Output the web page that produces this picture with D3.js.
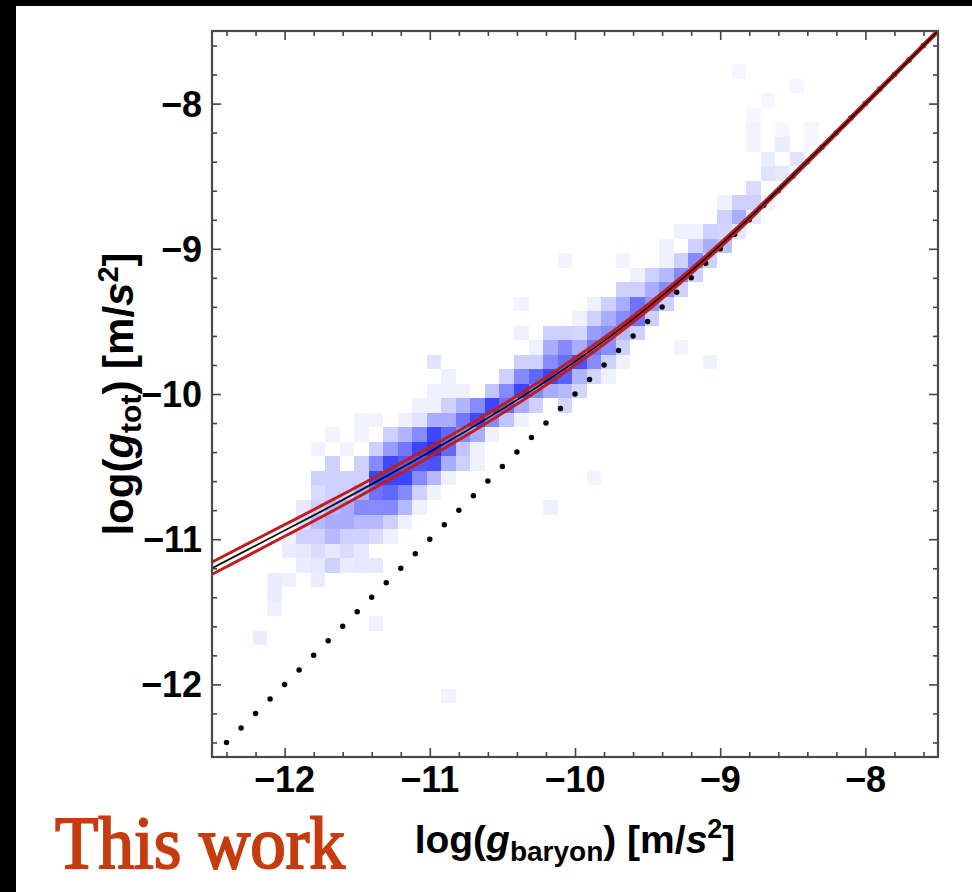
<!DOCTYPE html>
<html>
<head>
<meta charset="utf-8">
<script src="https://cdn.jsdelivr.net/npm/d3@7/dist/d3.min.js"></script>
<style>
  html, body { margin: 0; padding: 0; background: #000; }
  svg { display: block; }
</style>
</head>
<body>
<script>
// axis ticks
var majorTicks = [-12, -11, -10, -9, -8],
  tickLabels = ['\u221212', '\u221211', '\u221210', '\u22129', '\u22128'];

// fitted relation (log g_baryon -> log g_tot)
var curveX = [-12.5, -12.25, -12, -11.75, -11.5, -11.25, -11, -10.75, -10.5, -10.25, -10,
  -9.75, -9.5, -9.25, -9, -8.75, -8.5, -8.25, -8, -7.75, -7.5];
var curveY = [-11.2, -11.07, -10.94, -10.81, -10.676, -10.539, -10.399, -10.255, -10.104, -9.945, -9.777,
  -9.598, -9.405, -9.197, -8.975, -8.741, -8.497, -8.25, -8.0, -7.75, -7.5];
var bandHalf = [0.042, 0.041, 0.04, 0.039, 0.037, 0.035, 0.033, 0.031, 0.029, 0.027, 0.025,
  0.022, 0.02, 0.017, 0.015, 0.013, 0.011, 0.01, 0.009, 0.008, 0.008];

// 1:1 line
var identityLine = [[-12.4, -12.4], [-7.5, -7.5]];

// 2d histogram, 0.1 dex bins: [x centre, y centre of top cell, densities going down]
var binSize = 0.1;
var heatColumns = [
  [-12.17, -11.68, [0.08]],
  [-12.07, -11.28, [0.08, 0.08, 0.06]],
  [-11.97, -10.98, [0.06, 0.08, 0, 0.06]],
  [-11.87, -10.78, [0.1, 0.15, 0.2, 0.1, 0.08]],
  [-11.77, -10.38, [0.05, 0, 0.2, 0.15, 0.2, 0.3, 0.2, 0.15, 0.1, 0.08]],
  [-11.67, -10.28, [0.05, 0, 0.2, 0.2, 0.2, 0.3, 0.35, 0.3, 0.1, 0.2]],
  [-11.57, -10.38, [0.05, 0, 0.2, 0.2, 0.35, 0.35, 0.2, 0.15, 0.08]],
  [-11.47, -10.18, [0.05, 0.05, 0, 0.2, 0.2, 0.35, 0.5, 0.3, 0.2, 0.1, 0.1]],
  [-11.37, -10.18, [0.05, 0, 0.2, 0.5, 0.8, 0.6, 0.5, 0.3, 0.15, 0, 0.1, 0, 0, 0, 0.06]],
  [-11.27, -10.28, [0.2, 0.42, 0.78, 0.8, 0.65, 0.5, 0.2, 0.06]],
  [-11.17, -10.18, [0.06, 0.32, 0.58, 0.7, 0.8, 0.5, 0.3, 0.06]],
  [-11.07, -10.08, [0.06, 0.12, 0.5, 0.8, 0.72, 0.5, 0.2, 0.06]],
  [-10.97, -9.78, [0.12, 0, 0.06, 0.06, 0.35, 0.8, 0.88, 0.75, 0.3, 0.06]],
  [-10.87, -9.88, [0.06, 0.06, 0.2, 0.35, 0.65, 0.65, 0.35, 0.06]],
  [-10.87, -12.08, [0.05]],
  [-10.77, -9.98, [0.06, 0.32, 0.58, 0.5, 0.25, 0.2]],
  [-10.67, -10.08, [0.5, 0.78, 0.35, 0.06, 0.06]],
  [-10.57, -9.98, [0.25, 0.8, 0.5, 0.06]],
  [-10.47, -9.88, [0.2, 0.5, 0.62, 0.25]],
  [-10.37, -9.38, [0.05, 0, 0.06, 0, 0.2, 0.5, 0.8, 0.35, 0.06]],
  [-10.27, -9.68, [0.06, 0.2, 0.65, 0.5, 0.2]],
  [-10.17, -9.58, [0.2, 0.35, 0.5, 0.8, 0.35]],
  [-10.17, -10.78, [0.06]],
  [-10.07, -9.08, [0.05, 0, 0, 0, 0, 0.2, 0.5, 0.62, 0.68, 0.3, 0.18]],
  [-9.97, -9.48, [0.06, 0.18, 0.35, 0.75, 0.32, 0.18]],
  [-9.87, -9.38, [0.06, 0.2, 0.42, 0.58, 0.5, 0.18]],
  [-9.87, -10.58, [0.05]],
  [-9.77, -9.38, [0.2, 0.35, 0.48, 0.48, 0.2, 0.06]],
  [-9.67, -9.08, [0.05, 0, 0.2, 0.35, 0.5, 0.3, 0.2, 0.06]],
  [-9.57, -9.18, [0.06, 0.2, 0.6, 0.6, 0.2]],
  [-9.47, -9.18, [0.2, 0.35, 0.45, 0.2]],
  [-9.37, -8.98, [0.06, 0.06, 0.3, 0.5, 0.2]],
  [-9.27, -8.88, [0.06, 0, 0.2, 0.5, 0.2, 0, 0, 0, 0.05]],
  [-9.17, -8.88, [0.06, 0.2, 0.5, 0.2]],
  [-9.07, -8.88, [0.2, 0.35, 0.2]],
  [-9.07, -9.78, [0.06]],
  [-8.97, -8.68, [0.06, 0.2, 0.18, 0.28]],
  [-8.87, -7.78, [0.04]],
  [-8.87, -8.68, [0.2, 0.35, 0.1]],
  [-8.77, -8.08, [0.04, 0.05, 0.05, 0, 0, 0.15, 0.2, 0.1]],
  [-8.67, -7.98, [0.04, 0, 0, 0, 0.08, 0.12, 0, 0.06]],
  [-8.57, -8.18, [0.04, 0.08, 0, 0.1]],
  [-8.47, -7.88, [0.04, 0, 0, 0, 0, 0.12]],
  [-8.37, -8.18, [0.04, 0.04]]
];

var W = 972, H = 892,
  plot = {left: 212, right: 938, top: 31, bottom: 757},
  svg = d3.select('body').append('svg').attr('width', W).attr('height', H),
  x = d3.scaleLinear().domain([-12.5, -7.5]).range([plot.left, plot.right]),
  y = d3.scaleLinear().domain([-12.5, -7.5]).range([plot.bottom, plot.top]),
  heatColor = d3.scaleLinear().domain([0, 1]).range(['#ffffff', '#0b16ff']),
  sansFont = '"Liberation Sans", Arial, Helvetica, sans-serif';

// black frame of the screenshot, white page
svg.append('rect').attr('width', W).attr('height', H).attr('fill', '#000');
svg.append('rect').attr('x', 16).attr('y', 6).attr('width', W - 16).attr('height', H - 6).attr('fill', '#fff');

svg.append('clipPath').attr('id', 'plot-clip').append('rect')
  .attr('x', plot.left).attr('y', plot.top)
  .attr('width', plot.right - plot.left).attr('height', plot.bottom - plot.top);

var plotG = svg.append('g').attr('clip-path', 'url(#plot-clip)');

// histogram cells
var cells = [];
heatColumns.forEach(function(col) {
  col[2].forEach(function(v, k) {
    if (v > 0) cells.push({x: col[0], y: col[1] - k * binSize, v: v});
  });
});

plotG.append('g').selectAll('rect').data(cells).enter().append('rect')
  .attr('x', function(d) { return x(d.x - binSize / 2); })
  .attr('y', function(d) { return y(d.y + binSize / 2); })
  .attr('width', function(d) { return x(d.x + binSize / 2) - x(d.x - binSize / 2); })
  .attr('height', function(d) { return y(d.y - binSize / 2) - y(d.y + binSize / 2); })
  .attr('fill', function(d) { return heatColor(d.v); })
  .attr('shape-rendering', 'crispEdges');

// dotted 1:1 line
plotG.append('path')
  .datum(identityLine)
  .attr('d', d3.line().x(function(d) { return x(d[0]); }).y(function(d) { return y(d[1]); }))
  .attr('fill', 'none')
  .attr('stroke', '#000')
  .attr('stroke-width', 5.5)
  .attr('stroke-linecap', 'round')
  .attr('stroke-dasharray', '0 ' + (Math.SQRT2 * (x(-12.3) - x(-12.4))));

// fitted relation with its red band
var curvePts = curveX.map(function(v, i) { return {x: v, y: curveY[i], h: bandHalf[i]}; }),
  lineOf = function(off) {
    return d3.line().curve(d3.curveNatural)
      .x(function(d) { return x(d.x); })
      .y(function(d) { return y(d.y + off * d.h); });
  };

[1, -1].forEach(function(off) {
  plotG.append('path').datum(curvePts)
    .attr('d', lineOf(off))
    .attr('fill', 'none').attr('stroke', '#c41c1c').attr('stroke-width', 3);
});
plotG.append('path').datum(curvePts)
  .attr('d', lineOf(0))
  .attr('fill', 'none').attr('stroke', '#111').attr('stroke-width', 1.8);

// ticks on all four sides, pointing in
var minorTicks = d3.range(-124, -75, 2).map(function(d) { return d / 10; })
    .filter(function(d) { return majorTicks.indexOf(d) < 0; }),
  tickColor = '#444',
  addTicks = function(axisFn, scale, translate, values, size) {
    var g = svg.append('g').attr('transform', translate)
      .call(axisFn(scale).tickValues(values).tickSize(-size).tickFormat(''));
    g.select('.domain').remove();
    g.selectAll('line').attr('stroke', tickColor).attr('stroke-width', 1.6);
  };

addTicks(d3.axisBottom, x, 'translate(0,' + plot.bottom + ')', majorTicks, 9);
addTicks(d3.axisBottom, x, 'translate(0,' + plot.bottom + ')', minorTicks, 5);
addTicks(d3.axisTop, x, 'translate(0,' + plot.top + ')', majorTicks, 9);
addTicks(d3.axisTop, x, 'translate(0,' + plot.top + ')', minorTicks, 5);
addTicks(d3.axisLeft, y, 'translate(' + plot.left + ',0)', majorTicks, 9);
addTicks(d3.axisLeft, y, 'translate(' + plot.left + ',0)', minorTicks, 5);
addTicks(d3.axisRight, y, 'translate(' + plot.right + ',0)', majorTicks, 9);
addTicks(d3.axisRight, y, 'translate(' + plot.right + ',0)', minorTicks, 5);

svg.append('rect')
  .attr('x', plot.left).attr('y', plot.top)
  .attr('width', plot.right - plot.left).attr('height', plot.bottom - plot.top)
  .attr('fill', 'none').attr('stroke', '#4a4a4a').attr('stroke-width', 2.2);

// tick labels
svg.append('g').selectAll('text').data(majorTicks).enter().append('text')
  .attr('x', function(d) { return x(d); })
  .attr('y', plot.bottom + 35)
  .attr('text-anchor', 'middle')
  .style('font', 'bold 36px ' + sansFont)
  .text(function(d, i) { return tickLabels[i]; });

svg.append('g').selectAll('text').data(majorTicks).enter().append('text')
  .attr('x', plot.left - 10)
  .attr('y', function(d) { return y(d) + 13; })
  .attr('text-anchor', 'end')
  .style('font', 'bold 36px ' + sansFont)
  .text(function(d, i) { return tickLabels[i]; });

// axis titles
var addTitle = function(g, sub, size) {
  var t = g.append('text').attr('text-anchor', 'middle').style('font', 'bold ' + size + 'px ' + sansFont);
  t.append('tspan').text('log(');
  t.append('tspan').style('font-style', 'italic').text('g');
  t.append('tspan').attr('dy', 8).style('font-size', Math.round(size * 0.72) + 'px').text(sub);
  t.append('tspan').attr('dy', -8).text(') [m/');
  t.append('tspan').style('font-style', 'italic').text('s');
  t.append('tspan').attr('dy', -15).style('font-size', Math.round(size * 0.7) + 'px').text('2');
  t.append('tspan').attr('dy', 15).text(']');
};

addTitle(svg.append('g').attr('transform', 'translate(' + ((plot.left + plot.right) / 2) + ',853)'), 'baryon', 39);
addTitle(svg.append('g').attr('transform', 'translate(133,' + ((plot.top + plot.bottom) / 2) + ') rotate(-90)'), 'tot', 42);

svg.append('text')
  .attr('x', 55).attr('y', 868)
  .attr('textLength', 290).attr('lengthAdjust', 'spacingAndGlyphs')
  .style('font', '74px "Liberation Serif", "Times New Roman", serif')
  .style('stroke', '#c63c0e').style('stroke-width', 2)
  .attr('fill', '#c63c0e')
  .text('This work');
</script>
</body>
</html>
